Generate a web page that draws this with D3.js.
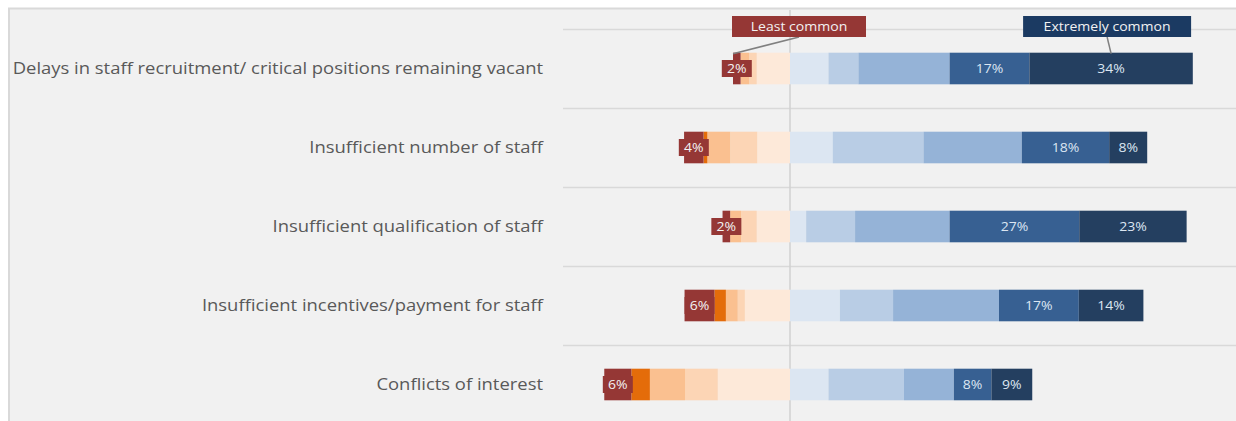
<!DOCTYPE html>
<html>
<head>
<meta charset="utf-8">
<script src="https://cdn.jsdelivr.net/npm/d3@7"></script>
<style>
  body { margin: 0; background: #fff; }
  svg { display: block; font-family: "Open Sans", sans-serif; }
</style>
</head>
<body>
<div id="chart"></div>
<script>
// categories, top to bottom
const categories = [
  'Delays in staff recruitment/ critical positions remaining vacant',
  'Insufficient number of staff',
  'Insufficient qualification of staff',
  'Insufficient incentives/payment for staff',
  'Conflicts of interest'
];

// share of answers (%) per level, 1 = least common ... 10 = extremely common
const level1  = [1.6, 4.1, 1.6, 6.3, 5.7];
const level2  = [0.0, 0.8, 0.0, 2.4, 3.9];
const level3  = [1.8, 4.8, 2.3, 2.5, 7.4];
const level4  = [1.6, 5.7, 3.3, 1.5, 6.9];
const level5  = [7.0, 6.9, 7.0, 9.5, 15.2];
const level6  = [8.1, 9.0, 3.4, 10.5, 8.1];
const level7  = [6.3, 19.1, 10.3, 11.2, 15.9];
const level8  = [19.2, 20.7, 19.9, 22.3, 10.5];
const level9  = [16.8, 18.4, 27.3, 16.8, 7.9];
const level10 = [34.4, 8.0, 22.6, 13.6, 8.6];

const levelNames = ['level1','level2','level3','level4','level5','level6','level7','level8','level9','level10'];
const levelValues = [level1, level2, level3, level4, level5, level6, level7, level8, level9, level10];
const levelColors = ['#953735','#e46c0a','#fac090','#fcd5b5','#fde9d9',
                     '#dce6f2','#b9cde5','#95b3d7','#376092','#243f60'];

const W = 1236, H = 421;
const stretch = 1.19;   // source font is set wider than Open Sans

/* ─── build rows: levels 1-5 go left of zero ────────────────────────── */
const rows = categories.map((c, i) => {
  const r = { category: c };
  levelNames.forEach((k, j) => { r[k] = j < 5 ? -levelValues[j][i] : levelValues[j][i]; });
  return r;
});

// negatives stack outward from zero: 5,4,3,2,1 ; positives 6..10
const stackKeys = ['level5','level4','level3','level2','level1','level6','level7','level8','level9','level10'];
const series = d3.stack()
  .keys(stackKeys)
  .offset(d3.stackOffsetDiverging)(rows);

const color = d3.scaleOrdinal().domain(levelNames).range(levelColors);

const x = d3.scaleLinear().domain([-50, 90]).range([552.5, 1217.5]);
const y = d3.scaleBand().domain(categories).range([29, 424])
  .paddingInner(0.6).paddingOuter(0.3);

const svg = d3.select('#chart').append('svg')
  .attr('width', W).attr('height', H)
  .attr('viewBox', [0, 0, W, H]);

/* ─── panel ─────────────────────────────────────────────────────────── */
svg.append('rect')
  .attr('x', 9).attr('y', 8.5)
  .attr('width', W).attr('height', H)
  .attr('fill', '#f1f1f1')
  .attr('stroke', '#d9d9d9').attr('stroke-width', 2);

/* ─── gridlines between categories ──────────────────────────────────── */
const gridYs = categories.map(c => y(c) - y.step() * 0.3);
svg.append('g').selectAll('line')
  .data(gridYs)
  .join('line')
    .attr('x1', 563).attr('x2', W)
    .attr('y1', d => Math.round(d) + 0.5).attr('y2', d => Math.round(d) + 0.5)
    .attr('stroke', '#d9d9d9').attr('stroke-width', 1.5);

/* ─── zero line ─────────────────────────────────────────────────────── */
svg.append('line')
  .attr('x1', x(0)).attr('x2', x(0))
  .attr('y1', 10).attr('y2', H)
  .attr('stroke', '#d0d0d0').attr('stroke-width', 1.5);

/* ─── category labels ───────────────────────────────────────────────── */
svg.append('g').selectAll('text')
  .data(categories)
  .join('text')
    .attr('transform', d => `translate(543,${y(d) + y.bandwidth() / 2}) scale(${stretch},1)`)
    .attr('dy', '0.35em')
    .attr('text-anchor', 'end')
    .attr('font-size', 15.5)
    .attr('fill', '#595959')
    .text(d => d);

/* ─── bars ──────────────────────────────────────────────────────────── */
svg.append('g').selectAll('g')
  .data(series)
  .join('g')
    .attr('fill', s => color(s.key))
  .selectAll('rect')
  .data(s => s)
  .join('rect')
    .attr('x', d => x(d[0]))
    .attr('y', d => y(d.data.category))
    .attr('width', d => x(d[1]) - x(d[0]))
    .attr('height', y.bandwidth());

/* ─── labels: least common (boxed) ──────────────────────────────────── */
const pct = v => Math.round(Math.abs(v)) + '%';
const s1 = series.find(s => s.key === 'level1');
const lab1 = svg.append('g').selectAll('g')
  .data(s1)
  .join('g')
    .attr('transform', d => `translate(${x((d[0] + d[1]) / 2)},${y(d.data.category) + y.bandwidth() / 2})`);
lab1.append('rect')
  .attr('x', -15).attr('y', -8.5)
  .attr('width', 30).attr('height', 17)
  .attr('fill', '#953735');
lab1.append('text')
  .attr('transform', 'scale(1.12,1)')
  .attr('text-anchor', 'middle').attr('dy', '0.36em')
  .attr('font-size', 12.5).attr('fill', '#f2f2f2')
  .text(d => pct(d.data.level1));

/* ─── labels: levels 9 and 10 ───────────────────────────────────────── */
['level9', 'level10'].forEach(k => {
  const s = series.find(v => v.key === k);
  svg.append('g').selectAll('text')
    .data(s)
    .join('text')
      .attr('transform', d => `translate(${x((d[0] + d[1]) / 2)},${y(d.data.category) + y.bandwidth() / 2}) scale(1.12,1)`)
      .attr('dy', '0.36em')
      .attr('text-anchor', 'middle')
      .attr('font-size', 12.5)
      .attr('fill', '#dce6f2')
      .text(d => pct(d.data[k]));
});

/* ─── callouts ──────────────────────────────────────────────────────── */
const first = categories[0];
const top10 = series.find(v => v.key === 'level10')[0];
const callouts = [
  { text: 'Least common', fill: '#953735', w: 134,
    ax: x(s1[0][0]), ay: y(first), dx: 66 },
  { text: 'Extremely common', fill: '#1b3a62', w: 168,
    ax: x((top10[0] + top10[1]) / 2), ay: y(first), dx: -4 }
];
callouts.forEach(c => {
  const cx = c.ax + c.dx, boxY = 16, boxH = 21;
  svg.append('line')
    .attr('x1', cx).attr('y1', boxY + boxH)
    .attr('x2', c.ax).attr('y2', c.ay + 1)
    .attr('stroke', '#808080').attr('stroke-width', 1.5);
  svg.append('rect')
    .attr('x', cx - c.w / 2).attr('y', boxY)
    .attr('width', c.w).attr('height', boxH)
    .attr('fill', c.fill);
  svg.append('text')
    .attr('transform', `translate(${cx},${boxY + boxH / 2}) scale(1.08,1)`)
    .attr('dy', '0.36em')
    .attr('text-anchor', 'middle')
    .attr('font-size', 13)
    .attr('fill', '#f2f2f2')
    .text(c.text);
});
</script>
</body>
</html>
